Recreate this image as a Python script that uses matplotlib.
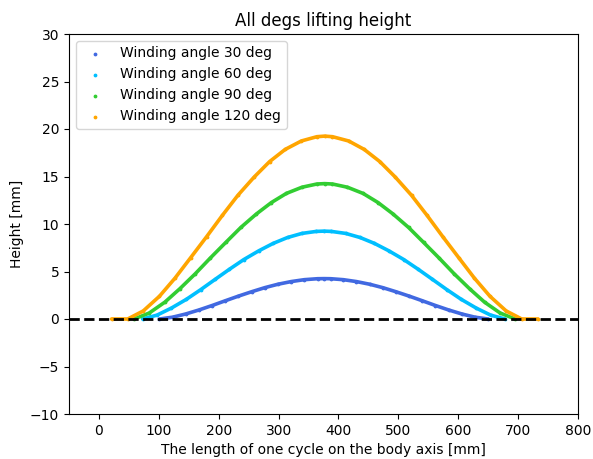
import matplotlib
matplotlib.use("Agg")
import matplotlib.pyplot as plt

labels = ["Winding angle 30 deg", "Winding angle 60 deg",
          "Winding angle 90 deg", "Winding angle 120 deg"]
colors = ["royalblue", "deepskyblue", "limegreen", "orange"]

x30 = [101, 123, 145, 167, 189, 211, 233, 255, 277, 299, 321, 343, 365, 376,
       387, 408, 430, 452, 474, 496, 518, 540, 562, 584, 606, 628, 650]
h30 = [0, 0.19, 0.53, 0.95, 1.42, 1.92, 2.41, 2.87, 3.30, 3.66, 3.94, 4.14, 4.24, 4.25,
       4.24, 4.14, 3.94, 3.66, 3.30, 2.87, 2.41, 1.92, 1.42, 0.95, 0.53, 0.19, 0]

x60 = [73, 97, 121, 146, 170, 194, 218, 242, 267, 291, 315, 339, 363, 376,
       388, 412, 436, 460, 484, 509, 533, 557, 581, 605, 630, 654, 678]
h60 = [0, 0.41, 1.15, 2.07, 3.09, 4.17, 5.24, 6.26, 7.18, 7.96, 8.58, 9.01, 9.22, 9.25,
       9.22, 9.01, 8.58, 7.96, 7.18, 6.26, 5.24, 4.17, 3.09, 2.07, 1.15, 0.41, 0]

x90 = [59, 84, 110, 135, 161, 186, 212, 237, 263, 288, 313, 339, 364, 377,
       390, 415, 441, 466, 491, 517, 542, 568, 593, 619, 644, 670, 695]
h90 = [0, 0.63, 1.77, 3.18, 4.77, 6.42, 8.07, 9.64, 11.06, 12.26, 13.22, 13.87, 14.21, 14.25,
       14.21, 13.87, 13.22, 12.26, 11.06, 9.64, 8.07, 6.42, 4.77, 3.18, 1.77, 0.63, 0]

x120 = [21, 48, 74, 101, 127, 153, 180, 206, 232, 259, 285, 311, 338, 364, 377,
        390, 417, 443, 469, 495, 522, 548, 574, 601, 627, 653, 680, 706, 733]
h120 = [0, 0, 0.85, 2.39, 4.30, 6.44, 8.68, 10.90, 13.02, 14.93, 16.57, 17.85, 18.74, 19.19, 19.25,
        19.19, 18.74, 17.85, 16.57, 14.93, 13.02, 10.90, 8.68, 6.44, 4.30, 2.39, 0.85, 0, 0]

xs = [x30, x60, x90, x120]
hs = [h30, h60, h90, h120]

xticks = [0, 100, 200, 300, 400, 500, 600, 700, 800]
yticks = [-10, -5, 0, 5, 10, 15, 20, 25, 30]

fig = plt.figure(figsize=(5.93, 4.59), dpi=100)
ax = fig.add_axes([69/593, 1 - 414/459, (578 - 69)/593, (414 - 34)/459])

for x, h, c, lab in zip(xs, hs, colors, labels):
    ax.plot(x, h, color=c, lw=2.6, solid_capstyle="round", solid_joinstyle="round", zorder=2)
    ax.scatter(x, h, s=3, color=c, label=lab, zorder=2)

ax.axhline(0, color="black", ls="--", lw=2, zorder=3)

ax.set_xlim(-50, 800)
ax.set_ylim(-10, 30)
ax.set_xticks(xticks)
ax.set_yticks(yticks)
ax.set_title("All degs lifting height")
ax.set_xlabel("The length of one cycle on the body axis [mm]")
ax.set_ylabel("Height [mm]")
ax.legend(loc="upper left", scatterpoints=1)

fig.savefig("out.png", dpi=100)
